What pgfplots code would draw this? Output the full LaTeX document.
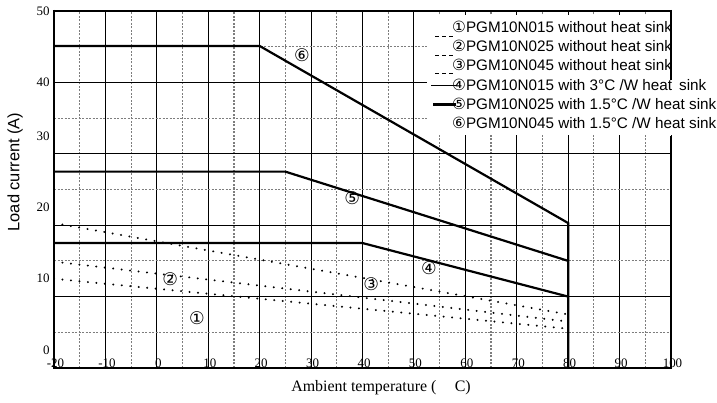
\documentclass[border=0pt]{standalone}
\usepackage{fontspec}
\setmainfont{Liberation Serif}
\newfontfamily\arial{Liberation Sans}
\newfontfamily\dejavu{DejaVu Sans}
\usepackage{pgfplots}
\pgfplotsset{compat=1.18}
\definecolor{gridgray}{RGB}{125,125,125}

\newcommand{\cnum}[1]{{\dejavu\fontsize{17.5}{18}\selectfont #1}}
\newcommand{\lnum}[1]{{\dejavu\fontsize{15.5}{16}\selectfont #1}}

\begin{document}
\begin{tikzpicture}
\useasboundingbox (0,0) rectangle (717bp,403bp);
\begin{axis}[
  at={(54bp,35bp)}, anchor=south west,
  scale only axis, width=617bp, height=357bp,
  xmin=-20, xmax=100, ymin=-2.5, ymax=47.5,
  axis line style={draw=none},
  xtick={-20,-10,...,100},
  xticklabels={-20,-10,0,10,20,30,40,50,60,70,80,90,100},
  minor xtick={-15,-5,...,95},
  ytick={0,10,20,30,37.5,47.5},
  yticklabels={0,10,20,30,40,50},
  minor ytick={2.5,12.5,...,42.5},
  extra y ticks={7.5,17.5,27.5,37.5},
  extra y tick labels={},
  extra y tick style={grid=major},
  xmajorgrids, xminorgrids, yminorgrids, ymajorgrids=false,
  major grid style={black, line width=0.9bp},
  minor grid style={gridgray, line width=1.1bp, dash pattern=on 2bp off 1.5bp},
  major tick length=0pt, minor tick length=0pt,
  tick label style={font=\fontsize{13}{15}\selectfont},
  xticklabel style={anchor=base, yshift=1bp, xshift=1.5bp},
  yticklabel style={anchor=east, xshift=-1bp},
]
% without heat sink (dotted)
\addplot[black, line width=2.2bp, line cap=round, dash pattern=on 0.01bp off 8.5bp]
  coordinates {(-20,10.0) (80,3.0)};
\addplot[black, line width=2.2bp, line cap=round, dash pattern=on 0.01bp off 8.5bp]
  coordinates {(-20,12.4) (80,4.0)};
\addplot[black, line width=2.2bp, line cap=round, dash pattern=on 0.01bp off 8.5bp]
  coordinates {(-20,17.8) (80,5.0)};
% with heat sink
\addplot[black, line width=2.2bp] coordinates {(-20,15) (40,15) (80,7.5)};
\addplot[black, line width=2.2bp] coordinates {(-20,25) (25,25) (80,12.5)};
\addplot[black, line width=2.2bp] coordinates {(-20,42.6) (20,42.6) (80,17.8) (80,-2.5)};

\node at (axis cs:28.2,41.3) {\cnum{⑥}};
\node at (axis cs:38.0,21.3) {\cnum{⑤}};
\node at (axis cs:52.9,11.5) {\cnum{④}};
\node at (axis cs:41.7,9.3) {\cnum{③}};
\node at (axis cs:2.6,10.0) {\cnum{②}};
\node at (axis cs:7.8,4.5) {\cnum{①}};
\end{axis}

\begin{scope}[x=1bp, y=-1bp, shift={(0,403bp)}]
  % legend box
  \fill[white] (427,15) rectangle (674,135);
  \draw[black, line width=0.8bp, dash pattern=on 4bp off 3bp] (435,36.5) -- (456,36.5);
  \draw[black, line width=0.8bp, dash pattern=on 4bp off 3bp] (435,55) -- (456,55);
  \draw[black, line width=0.8bp, dash pattern=on 4bp off 3bp] (435,73.5) -- (456,73.5);
  \draw[black, line width=1bp] (431,86) -- (456,86);
  \draw[black, line width=2.6bp] (433,104.5) -- (456,104.5);
  \begin{scope}
    \clip (0,0) rectangle (671,403);
    \begin{scope}[every node/.style={anchor=base west, inner sep=0pt, font=\arial\fontsize{15.3}{18}\selectfont}]
      \node at (452,32.5) {\lnum{①}PGM10N015 without heat sink};
      \node at (452,51.5) {\lnum{②}PGM10N025 without heat sink};
      \node at (452,71) {\lnum{③}PGM10N045 without heat sink};
      \node at (452,90.5) {\lnum{④}PGM10N015 with 3°C /W heat};
      \node at (452,110) {\lnum{⑤}PGM10N025 with 1.5°C /W he};
      \node at (452,129) {\lnum{⑥}PGM10N045 with 1.5°C /W he};
    \end{scope}
  \end{scope}
  \begin{scope}[every node/.style={anchor=base west, inner sep=0pt, font=\arial\fontsize{15.3}{18}\selectfont}]
    \node at (679,90.5) {sink};
    \node at (672,110) {at sink};
    \node at (672,129) {at sink};
  \end{scope}
  % frame
  \draw[line width=2.5bp] (54,9.9) -- (54,369.2);
  \draw[line width=2.4bp] (52.8,368) -- (672,368);
  \draw[line width=2.2bp] (52.8,11) -- (672.1,11);
  \draw[line width=2.2bp] (671,9.9) -- (671,80);
  \draw[line width=2.2bp] (671,136) -- (671,369.2);
  % axis titles
  \node[rotate=90, font=\arial\fontsize{16.5}{18}\selectfont] at (15,172) {Load current (A)};
  \node[font=\fontsize{16}{18}\selectfont] at (381,388) {Ambient temperature (\hspace{1.15em}C)};
\end{scope}
\end{tikzpicture}
\end{document}
